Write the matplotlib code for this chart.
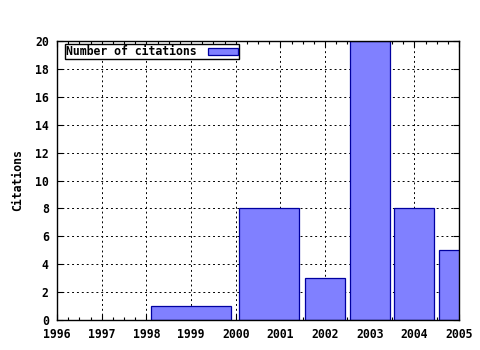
import numpy as np
import matplotlib
matplotlib.use("Agg")
import matplotlib.pyplot as plt
from matplotlib.ticker import MultipleLocator

# data
years = [1999, 2001, 2002, 2003, 2004, 2005]
citations = [1, 8, 3, 20, 8, 5]
series_label = "Number of citations"
y_label = "Citations"

plt.rcParams['font.family'] = ['DejaVu Sans Mono']
plt.rcParams['font.weight'] = 'bold'
plt.rcParams['font.size'] = 8.3

fig = plt.figure(figsize=(4.8, 3.5), dpi=100)
ax = fig.add_axes([57 / 480, 30 / 350, 402 / 480, 279 / 350])

# gnuplot style boxes: each box reaches half way to its neighbours, scaled 0.9
x = np.array(years, dtype=float)
lefts, rights = [], []
for i in range(len(x)):
    if i == 0:
        half_r = (x[1] - x[0]) / 2
        half_l = half_r
    elif i == len(x) - 1:
        half_l = (x[i] - x[i - 1]) / 2
        half_r = half_l
    else:
        half_l = (x[i] - x[i - 1]) / 2
        half_r = (x[i + 1] - x[i]) / 2
    lo, hi = x[i] - half_l, x[i] + half_r
    mid = (lo + hi) / 2
    w = (hi - lo) * 0.9
    lefts.append(mid - w / 2)
    rights.append(mid + w / 2)
lefts = np.array(lefts)
widths = np.array(rights) - lefts

ax.bar(lefts, citations, width=widths, align='edge', color='#8080ff',
       edgecolor='#0000a0', linewidth=0.9, label=series_label, zorder=3)

ax.set_xlim(1996, 2005)
ax.set_ylim(0, 20)
ax.xaxis.set_major_locator(MultipleLocator(1))
ax.xaxis.set_minor_locator(MultipleLocator(0.25))
ax.yaxis.set_major_locator(MultipleLocator(2))
ax.tick_params(which='both', direction='in', top=True, right=True, width=0.8)
ax.tick_params(which='major', length=4, labelsize=8.3, pad=6)
ax.tick_params(which='minor', length=2)
ax.xaxis.set_major_formatter(plt.FuncFormatter(lambda v, p: "%d" % v))

ax.grid(True, which='major', color='black', linestyle=(0, (2, 3)),
        linewidth=0.7, zorder=1)
ax.set_axisbelow(True)
for s in ax.spines.values():
    s.set_linewidth(1.0)
    s.set_zorder(5)

ax.set_ylabel(y_label, fontsize=8.3, fontweight='bold', labelpad=8)

leg = ax.legend(loc='upper left', markerfirst=False, fancybox=False,
                framealpha=1, edgecolor='black', handlelength=2.6,
                handleheight=0.6, borderpad=0.1, borderaxespad=0.15,
                handletextpad=1.0,
                bbox_to_anchor=(0.015, 0.995),
                prop={'family': 'DejaVu Sans Mono', 'weight': 'bold',
                      'size': 8.3})
leg.get_frame().set_linewidth(1.0)

fig.savefig("out.png", dpi=100)
